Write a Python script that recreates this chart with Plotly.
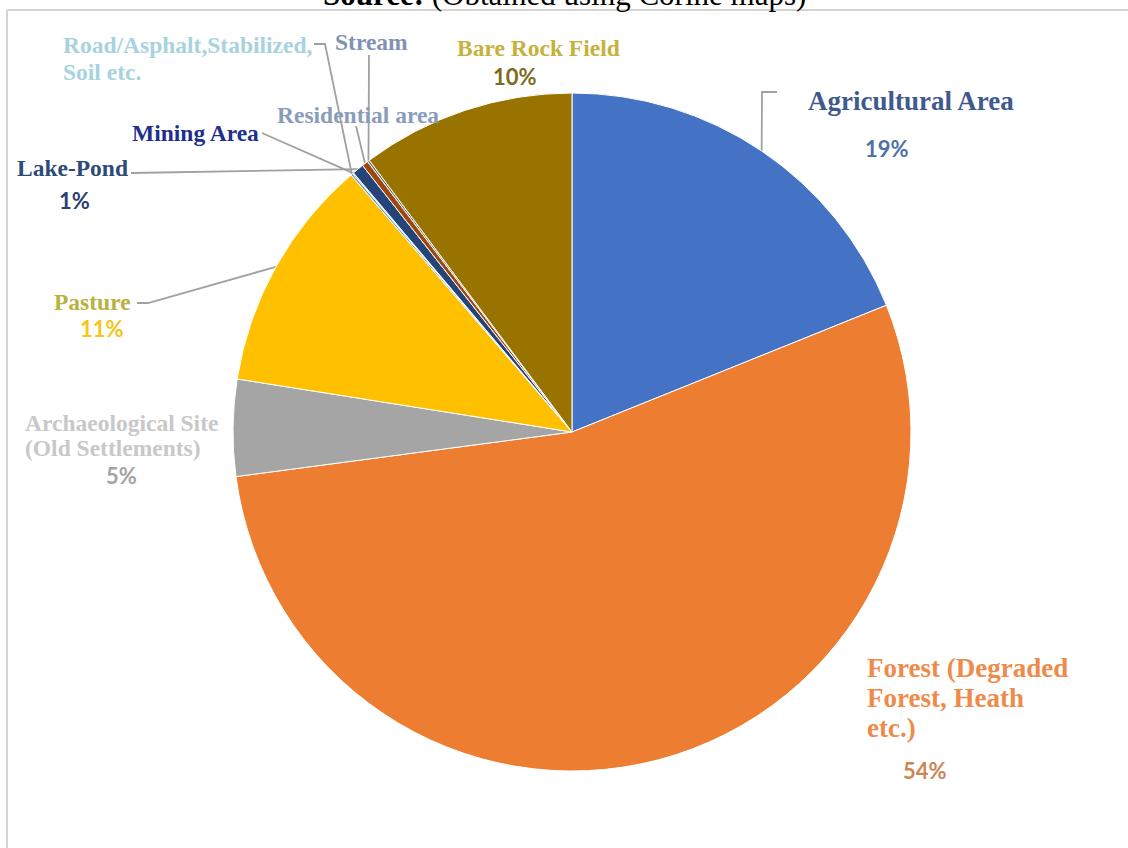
import math
import plotly.graph_objects as go

# ---------------- data ----------------
categories = [
    "Agricultural Area",
    "Forest (Degraded Forest, Heath etc.)",
    "Archaeological Site (Old Settlements)",
    "Pasture",
    "Road/Asphalt,Stabilized, Soil etc.",
    "Mining Area",
    "Lake-Pond",
    "Residential area",
    "Stream",
    "Bare Rock Field",
]
shares = [18.9, 54.0, 4.6, 11.2, 0.1, 0.05, 0.55, 0.3, 0.1, 10.2]
show_pct = [True, True, True, True, False, False, True, False, False, True]
slice_colors = ["#4472C4", "#ED7D31", "#A5A5A5", "#FFC000", "#5B9BD5",
                "#70AD47", "#264478", "#9E480E", "#636363", "#997300"]
title_text = "<b>Source:</b> (Obtained using Corine maps)"

# ---------------- layout constants ----------------
W, H = 1128, 848
CX, CY, R = 572, 432, 339
SERIF = "Liberation Serif"
SANS = "Lato"
LINE_COLOR = "#A0A0A0"

total = sum(shares)
cum = []
acc = 0.0
for v in shares:
    cum.append((acc, acc + v))
    acc += v


def edge(i, k=1.0):
    a, b = cum[i]
    th = 2 * math.pi * ((a + b) / 2) / total
    return CX + R * k * math.sin(th), CY - R * k * math.cos(th)


def pct(i):
    return f"{round(shares[i] / total * 100)}%"


fig = go.Figure()

fig.add_trace(go.Pie(
    labels=categories, values=shares, sort=False, direction="clockwise",
    rotation=0, textinfo="none", hoverinfo="label+percent",
    marker=dict(colors=slice_colors, line=dict(color="#FFFFFF", width=1)),
    domain=dict(x=[(CX - R) / W, (CX + R) / W],
                y=[(H - (CY + R)) / H, (H - (CY - R)) / H]),
    showlegend=False,
))

# leader lines: label-side points followed by slice edge point
leaders = {
    0: [(777, 92), (762, 92)],
    3: [(137, 303), (148, 303)],
    4: [(314, 44), (325, 44)],
    5: [(262, 133)],
    6: [(131, 173)],
    7: [(356, 126)],
    8: [(369, 55)],
}
for i, pts in leaders.items():
    ex, ey = edge(i, 1.0)
    xs = [p[0] for p in pts] + [ex]
    ys = [p[1] for p in pts] + [ey]
    fig.add_trace(go.Scatter(x=xs, y=ys, mode="lines",
                             line=dict(color=LINE_COLOR, width=1.8),
                             hoverinfo="skip", showlegend=False))

annotations = []


def label(text, x, y, color, size=23.5, font=SERIF, bold=True, xanchor="left"):
    t = f"<b>{text}</b>" if bold else text
    annotations.append(dict(text=t, x=x, y=y, xref="x", yref="y",
                            xanchor=xanchor, yanchor="middle", showarrow=False,
                            font=dict(family=font, size=size, color=color)))


# category labels
label("Agricultural Area", 806, 101, "#3F5A8C", size=27)
label("Forest (Degraded", 865, 668, "#EE8B4A", size=27)
label("Forest, Heath", 865, 698, "#EE8B4A", size=27)
label("etc.)", 865, 728, "#EE8B4A", size=27)
label("Archaeological Site", 23, 423, "#C8C8C8")
label("(Old Settlements)", 23, 448, "#C8C8C8")
label("Pasture", 52, 302, "#B9B240")
label("Road/Asphalt,Stabilized,", 61, 45, "#A8D2E0")
label("Soil etc.", 61, 72, "#A8D2E0")
label("Mining Area", 130, 133, "#1F2F8C")
label("Lake-Pond", 15, 168, "#2E4A78")
label("Residential area", 275, 115, "#8A9CBB")
label("Stream", 333, 42, "#7F93B3")
label("Bare Rock Field", 455, 48, "#C5B23A")

# percentage labels
pct_pos = {0: (887, 148, "#5070A8"), 1: (925, 770, "#C98756"),
           2: (121, 475, "#A3A3A3"), 3: (102, 328, "#F5C518"),
           6: (74, 200, "#2E4170"), 9: (515, 76, "#7D6B1E")}
for i, (x, y, c) in pct_pos.items():
    if show_pct[i]:
        label(pct(i), x, y, c, size=22, font=SANS, xanchor="center")

# clipped source line at the very top (as in the reference)
annotations.append(dict(text=title_text, x=564, y=14, xref="x", yref="y",
                        xanchor="center", yanchor="bottom", showarrow=False,
                        font=dict(family=SERIF, size=31, color="#000000")))

shapes = [
    dict(type="line", xref="x", yref="y", x0=7, y0=10, x1=W, y1=10,
         line=dict(color="#D4D4D4", width=2)),
    dict(type="line", xref="x", yref="y", x0=7, y0=10, x1=7, y1=H,
         line=dict(color="#D4D4D4", width=2)),
]

fig.update_layout(
    width=W, height=H, margin=dict(l=0, r=0, t=0, b=0),
    paper_bgcolor="#FFFFFF", plot_bgcolor="rgba(0,0,0,0)",
    xaxis=dict(range=[0, W], visible=False, domain=[0, 1], fixedrange=True),
    yaxis=dict(range=[H, 0], visible=False, domain=[0, 1], fixedrange=True),
    annotations=annotations, shapes=shapes, showlegend=False,
)

fig.write_html("out.html")
